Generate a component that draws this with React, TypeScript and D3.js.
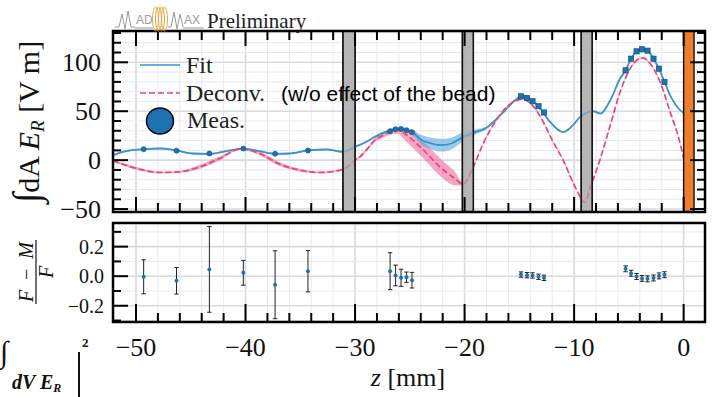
import React from 'react';
import * as d3 from 'd3';

// ---------- data ----------
const fitZ = [-52.1, -51.2, -49.3, -47.8, -46.3, -44.8, -43.3, -41.75, -40.2, -38.7, -37.3, -36.0, -34.3, -32.6, -31.1,
  -30.0, -29.1, -28.2, -27.0, -26.1, -24.85, -23.9, -23.0, -22.1, -21.2, -20.3,
  -19.0, -18.1, -17.2, -16.3, -15.4, -14.8, -14.0, -13.1, -12.2, -11.3, -11.0, -10.1, -9.45,
  -8.26, -7.6, -6.7, -5.8, -5.3, -4.8, -4.3, -3.8, -3.3, -2.75, -2.25, -1.75, -1.23, -0.32, 0.5];
const fitVal = [5.1, 8.5, 11.2, 11.9, 9.9, 6.8, 6.5, 9.2, 11.6, 9.2, 6.5, 6.8, 9.9, 10.9, 8.5,
  13.6, 18, 23.8, 29.6, 31.6, 28.9, 20.4, 17, 15.3, 17, 22.8,
  28.9, 32.3, 40.8, 51, 61.2, 65.3, 61.9, 52.8, 39.1, 29.9, 28.6, 35.7, 44.2,
  50, 47.6, 61.2, 83.4, 91.8, 103.7, 111.2, 113.3, 111.9, 103.7, 93.5, 79.9, 66.3, 51, 45];
const fitErr = [0.8, 0.8, 0.8, 0.8, 0.8, 0.8, 0.8, 0.8, 0.8, 0.8, 0.8, 0.8, 0.8, 0.8, 0.8,
  0.8, 0.9, 1.0, 1.2, 1.5, 2.5, 5, 6, 6.5, 6, 5,
  2.5, 1.2, 0.8, 0.8, 0.8, 0.8, 0.8, 0.8, 0.8, 0.8, 0.8, 0.8, 0.8,
  0.8, 0.8, 0.8, 0.8, 0.8, 0.8, 0.8, 0.8, 0.8, 0.8, 0.8, 0.8, 0.8, 0.8, 0.8];

const deconvZ = [-52.1, -50.27, -47.84, -46.0, -44.18, -42.36, -40.5, -38.7, -36.88, -35.05, -33.22, -31.1,
  -30.0, -29.55, -28.6, -28.2, -27.7, -26.8, -26.1, -25.5, -23.9, -22.1, -20.9, -20.15,
  -19.2, -18.3, -17.1, -16.2, -15.0, -14.7, -13.8, -12.9, -12.0, -11.0, -10.06, -9.45, -9.06,
  -8.5, -7.6, -6.7, -5.8, -4.89, -3.75, -3.06, -2.15, -1.23, -0.32, 0.0, 0.5];
const deconvVal = [-0.7, -7.5, -12.6, -11.9, -6.8, 1.7, 11.3, 6.8, -4.1, -10.2, -12.6, -9.5,
  0, 3.4, 15.3, 20.4, 23.8, 29, 30.6, 27.2, 11.9, -8.5, -18.7, -24.5,
  -6.8, 17, 40.8, 53.8, 61.9, 62.2, 56, 40.8, 20.4, 0, -23.8, -37.4, -43.5,
  -27, 1.7, 35.7, 69.7, 93.5, 104.5, 98.7, 79.9, 49.3, 17, 1.7, -20];
const deconvErr = [0.8, 1.5, 0.8, 0.9, 2, 2, 0.8, 1.8, 2, 1.5, 0.8, 1,
  1, 1.2, 1.5, 1.8, 2.5, 3, 3.5, 6, 8.5, 9, 7, 1.5,
  0.8, 0.8, 0.8, 0.8, 0.8, 0.8, 0.8, 0.8, 0.8, 0.8, 0.8, 0.8, 0.8,
  0.8, 0.8, 0.8, 0.8, 0.8, 0.8, 0.8, 0.8, 0.8, 0.8, 0.8, 0.8];

const measZ = [-49.3, -46.3, -43.3, -40.2, -37.3, -34.3,
  -26.8, -26.3, -25.8, -25.3, -24.8,
  -14.85, -14.3, -13.8, -13.25, -12.75,
  -5.3, -4.8, -4.3, -3.8, -3.3, -2.75, -2.25, -1.75];
const measVal = [11.2, 9.7, 6.8, 11.8, 6.5, 9.9,
  29.6, 31.6, 31.9, 30.6, 28.6,
  65.3, 63.6, 60.2, 55.1, 48.7,
  91.8, 103.7, 111.2, 113.3, 111.9, 103.7, 93.5, 79.9];
const resVal = [-0.004, -0.031, 0.046, 0.023, -0.058, 0.034,
  0.034, 0.005, -0.011, -0.007, -0.027,
  0.011, 0.007, 0.005, -0.004, -0.011,
  0.05, 0.02, -0.002, -0.015, -0.018, -0.012, 0.002, 0.01];
const resErr = [0.115, 0.09, 0.29, 0.084, 0.23, 0.14,
  0.125, 0.07, 0.058, 0.035, 0.053,
  0.018, 0.018, 0.018, 0.018, 0.018,
  0.02, 0.02, 0.02, 0.02, 0.02, 0.02, 0.02, 0.02];

const grayBands = [[-31.1, -30.0], [-20.2, -19.2], [-9.35, -8.35]];
const orangeBand = [0, 0.95];

const xTickValues = [-50, -40, -30, -20, -10, 0];
const xTickLabels = ['−50', '−40', '−30', '−20', '−10', '0'];
const yTopTickValues = [-50, 0, 50, 100];
const yTopTickLabels = ['−50', '0', '50', '100'];
const yBotTickValues = [-0.2, 0.0, 0.2];
const yBotTickLabels = ['−0.2', '0.0', '0.2'];

// ---------- layout ----------
const W = 712, H = 397;
const PL = 113, PR = 705, TT = 31, TB = 212, BT = 223, BB = 322;
const SERIF = '"Liberation Serif", "DejaVu Serif", serif';
const SANS = '"Liberation Sans", Arial, sans-serif';
const BLUE = '#3a93cf';
const PINK = '#e8457c';
const MEAS = '#1f72b0';

export default function App() {
  const x = d3.scaleLinear().domain([-52.1, 1.95]).range([PL, PR]);
  const yT = d3.scaleLinear().domain([-53, 132]).range([TB, TT]);
  const yB = d3.scaleLinear().domain([-0.31, 0.36]).range([BB, BT]);

  const fitPts = fitZ.map((z, i) => ({ z, v: fitVal[i], e: fitErr[i] }));
  const decPts = deconvZ.map((z, i) => ({ z, v: deconvVal[i], e: deconvErr[i] }));

  const line = d3.line<any>().x(d => x(d.z)).y(d => yT(d.v)).curve(d3.curveMonotoneX);
  const area = d3.area<any>().x(d => x(d.z)).y0(d => yT(d.v - d.e)).y1(d => yT(d.v + d.e)).curve(d3.curveMonotoneX);

  const xMinor = d3.range(-50, 1, 2);
  const yTopMinor = d3.range(-50, 131, 10);
  const yBotMinor = [-0.3, -0.2, -0.1, 0, 0.1, 0.2, 0.3];

  const isMajorX = (v: number) => Math.abs(v % 10) < 1e-6;
  const isMajorYT = (v: number) => Math.abs(v % 50) < 1e-6;
  const isMajorYB = (v: number) => Math.abs(Math.round(v * 10) % 2) === 0;

  return (
    <svg width={W} height={H} style={{ position: 'absolute', left: 0, top: 0, background: '#fff' }}>
      <defs>
        <clipPath id="clipTop"><rect x={PL} y={TT} width={PR - PL} height={TB - TT} /></clipPath>
        <clipPath id="clipBot"><rect x={PL} y={BT} width={PR - PL} height={BB - BT} /></clipPath>
      </defs>
      <rect x={0} y={0} width={W} height={H} fill="#fff" />

      {/* grids */}
      <g>
        {xMinor.map(v => (
          <line key={'gxt' + v} x1={x(v)} x2={x(v)} y1={TT} y2={TB} stroke={isMajorX(v) ? '#d8d8e6' : '#e8e8f2'} strokeWidth={isMajorX(v) ? 1.6 : 1} />
        ))}
        {yTopMinor.map(v => (
          <line key={'gyt' + v} x1={PL} x2={PR} y1={yT(v)} y2={yT(v)} stroke={isMajorYT(v) ? '#d8d8e6' : '#e8e8f2'} strokeWidth={isMajorYT(v) ? 1.6 : 1} />
        ))}
        {xMinor.map(v => (
          <line key={'gxb' + v} x1={x(v)} x2={x(v)} y1={BT} y2={BB} stroke={isMajorX(v) ? '#d8d8e6' : '#e8e8f2'} strokeWidth={isMajorX(v) ? 1.6 : 1} />
        ))}
        {yBotMinor.map(v => (
          <line key={'gyb' + v} x1={PL} x2={PR} y1={yB(v)} y2={yB(v)} stroke={isMajorYB(v) ? '#d8d8e6' : '#e8e8f2'} strokeWidth={isMajorYB(v) ? 1.6 : 1} />
        ))}
      </g>

      {/* top panel curves */}
      <g clipPath="url(#clipTop)">
        <path d={area(decPts) || ''} fill="#f06a9a" opacity={0.6} />
        <path d={area(fitPts) || ''} fill="#5aa6dc" opacity={0.6} />
        {grayBands.map((b, i) => (
          <rect key={'gb' + i} x={x(b[0])} y={TT} width={x(b[1]) - x(b[0])} height={TB - TT} fill="#b0b0b0" fillOpacity={0.85} stroke="#111" strokeWidth={1.4} />
        ))}
        <path d={line(fitPts) || ''} fill="none" stroke={BLUE} strokeWidth={1.8} />
        <path d={line(decPts) || ''} fill="none" stroke={PINK} strokeWidth={1.7} strokeDasharray="6,3" />
        {grayBands.map((b, i) => (
          <rect key={'gbo' + i} x={x(b[0])} y={TT} width={x(b[1]) - x(b[0])} height={TB - TT} fill="#b0b0b0" fillOpacity={0.55} stroke="#111" strokeWidth={1.4} />
        ))}
        {measZ.map((z, i) => z > -20 ? (
          <rect key={'m' + i} x={x(z) - 2.6} y={yT(measVal[i]) - 2.6} width={5.2} height={5.2} fill={MEAS} stroke="#174f7c" strokeWidth={0.7} />
        ) : (
          <circle key={'m' + i} cx={x(z)} cy={yT(measVal[i])} r={2.5} fill={MEAS} stroke="#174f7c" strokeWidth={0.7} />
        ))}
        <rect x={x(orangeBand[0])} y={TT} width={x(orangeBand[1]) - x(orangeBand[0])} height={TB - TT} fill="#ee7d2e" stroke="#111" strokeWidth={1.4} />
      </g>

      {/* bottom panel residuals */}
      <g clipPath="url(#clipBot)">
        {measZ.map((z, i) => {
          const cx = x(z);
          const y1 = yB(resVal[i] + resErr[i]);
          const y2 = yB(resVal[i] - resErr[i]);
          return (
            <g key={'r' + i}>
              <line x1={cx} x2={cx} y1={y1} y2={y2} stroke="#222" strokeWidth={1} />
              <line x1={cx - 2.2} x2={cx + 2.2} y1={y1} y2={y1} stroke="#222" strokeWidth={1} />
              <line x1={cx - 2.2} x2={cx + 2.2} y1={y2} y2={y2} stroke="#222" strokeWidth={1} />
              <circle cx={cx} cy={yB(resVal[i])} r={2} fill={MEAS} />
            </g>
          );
        })}
      </g>

      {/* ticks */}
      <g stroke="#000" strokeWidth={2}>
        {xMinor.map(v => {
          const L = isMajorX(v) ? 15 : 9;
          return (
            <g key={'tx' + v}>
              <line x1={x(v)} x2={x(v)} y1={TT} y2={TT + L} />
              <line x1={x(v)} x2={x(v)} y1={TB} y2={TB - L} />
              <line x1={x(v)} x2={x(v)} y1={BB} y2={BB - (isMajorX(v) ? 18 : 9)} />
            </g>
          );
        })}
        {yTopMinor.map(v => {
          const L = isMajorYT(v) ? 15 : 8;
          return (
            <g key={'ty' + v}>
              <line x1={PL} x2={PL + L} y1={yT(v)} y2={yT(v)} />
              <line x1={PR} x2={PR - L} y1={yT(v)} y2={yT(v)} />
            </g>
          );
        })}
        {yBotMinor.map(v => {
          const L = isMajorYB(v) ? 15 : 8;
          return <line key={'tyb' + v} x1={PL} x2={PL + L} y1={yB(v)} y2={yB(v)} />;
        })}
      </g>

      {/* frames */}
      <rect x={PL} y={TT} width={PR - PL} height={TB - TT} fill="none" stroke="#000" strokeWidth={2.5} />
      <rect x={PL} y={BT} width={PR - PL} height={BB - BT} fill="none" stroke="#000" strokeWidth={2.5} />

      {/* tick labels */}
      <g fontFamily={SERIF} fill="#111">
        {xTickValues.map((v, i) => (
          <text key={'xl' + v} x={x(v)} y={356} fontSize={26} textAnchor="middle">{xTickLabels[i]}</text>
        ))}
        {yTopTickValues.map((v, i) => (
          <text key={'ytl' + v} x={101} y={yT(v) + 9} fontSize={26} textAnchor="end">{yTopTickLabels[i]}</text>
        ))}
        {yBotTickValues.map((v, i) => (
          <text key={'ybl' + v} x={104} y={yB(v) + 7} fontSize={20} textAnchor="end">{yBotTickLabels[i]}</text>
        ))}
      </g>

      {/* axis labels */}
      <text transform="translate(39,122) rotate(-90)" textAnchor="middle" fontFamily={SERIF} fontSize={30} fill="#111">
        <tspan fontSize={38}>∫</tspan>
        <tspan>dA </tspan>
        <tspan fontStyle="italic">E</tspan>
        <tspan fontStyle="italic" fontSize={19} dy={5}>R</tspan>
        <tspan dy={-5}> [V m]</tspan>
      </text>
      <g transform="translate(36,272) rotate(-90)" fontFamily={SERIF} fill="#111">
        <text x={0} y={-3} fontSize={20} fontStyle="italic" textAnchor="middle" textLength={60}>F − M</text>
        <line x1={-32} x2={32} y1={0} y2={0} stroke="#111" strokeWidth={1.2} />
        <text x={0} y={17} fontSize={20} fontStyle="italic" textAnchor="middle">F</text>
      </g>
      <text x={408} y={386} textAnchor="middle" fontFamily={SERIF} fontSize={26} fill="#111">
        <tspan fontStyle="italic">z</tspan><tspan> [mm]</tspan>
      </text>

      {/* legend */}
      <g fontFamily={SERIF} fill="#222">
        <line x1={140} x2={180} y1={65} y2={65} stroke={BLUE} strokeWidth={1.6} />
        <text x={186} y={73} fontSize={24}>Fit</text>
        <line x1={140} x2={180} y1={93} y2={93} stroke={PINK} strokeWidth={1.5} strokeDasharray="6,3" />
        <text x={186} y={101} fontSize={24}>Deconv.</text>
        <ellipse cx={160} cy={121} rx={13.5} ry={13} fill={MEAS} stroke="#000" strokeWidth={1.5} />
        <text x={187} y={128} fontSize={24}>Meas.</text>
      </g>
      <text x={281} y={101} fontFamily={SANS} fontSize={21} fill="#000">(w/o effect of the bead)</text>

      {/* logo + Preliminary */}
      <g fill="none" stroke="#9a9a9a" strokeWidth={1}>
        <polyline points="115,27 119,27 122,14 125,29 128,11 131,27 135,27" />
        <line x1={135} y1={28} x2={153} y2={28} />
        <polyline points="168,27 171,27 174,12 177,29 180,14 183,27" />
        <line x1={183} y1={28} x2={204} y2={28} />
      </g>
      <text x={136} y={24} fontFamily={SANS} fontSize={12} fill="#9a9a9a">AD</text>
      <text x={184} y={24} fontFamily={SANS} fontSize={12} fill="#9a9a9a">AX</text>
      <g fill="none" stroke="#f0a540" strokeWidth={1}>
        {[155.5, 158.5, 161.5, 164.5].map((cx, i) => (
          <ellipse key={'coil' + i} cx={cx} cy={19} rx={3} ry={12} />
        ))}
      </g>
      <text x={207} y={28} fontFamily={SERIF} fontSize={21} fill="#222">Preliminary</text>

      {/* bottom-left fragment */}
      <text x={0} y={362} fontFamily={SERIF} fontSize={30} fill="#111">∫</text>
      <text x={12} y={389} fontFamily={SERIF} fontSize={20} fontWeight="bold" fontStyle="italic" fill="#111">
        dV E<tspan fontSize={12} dy={3}>R</tspan>
      </text>
      <line x1={79} x2={79} y1={352} y2={397} stroke="#111" strokeWidth={2} />
      <text x={82} y={347} fontFamily={SERIF} fontSize={13} fontWeight="bold" fill="#111">2</text>
    </svg>
  );
}
